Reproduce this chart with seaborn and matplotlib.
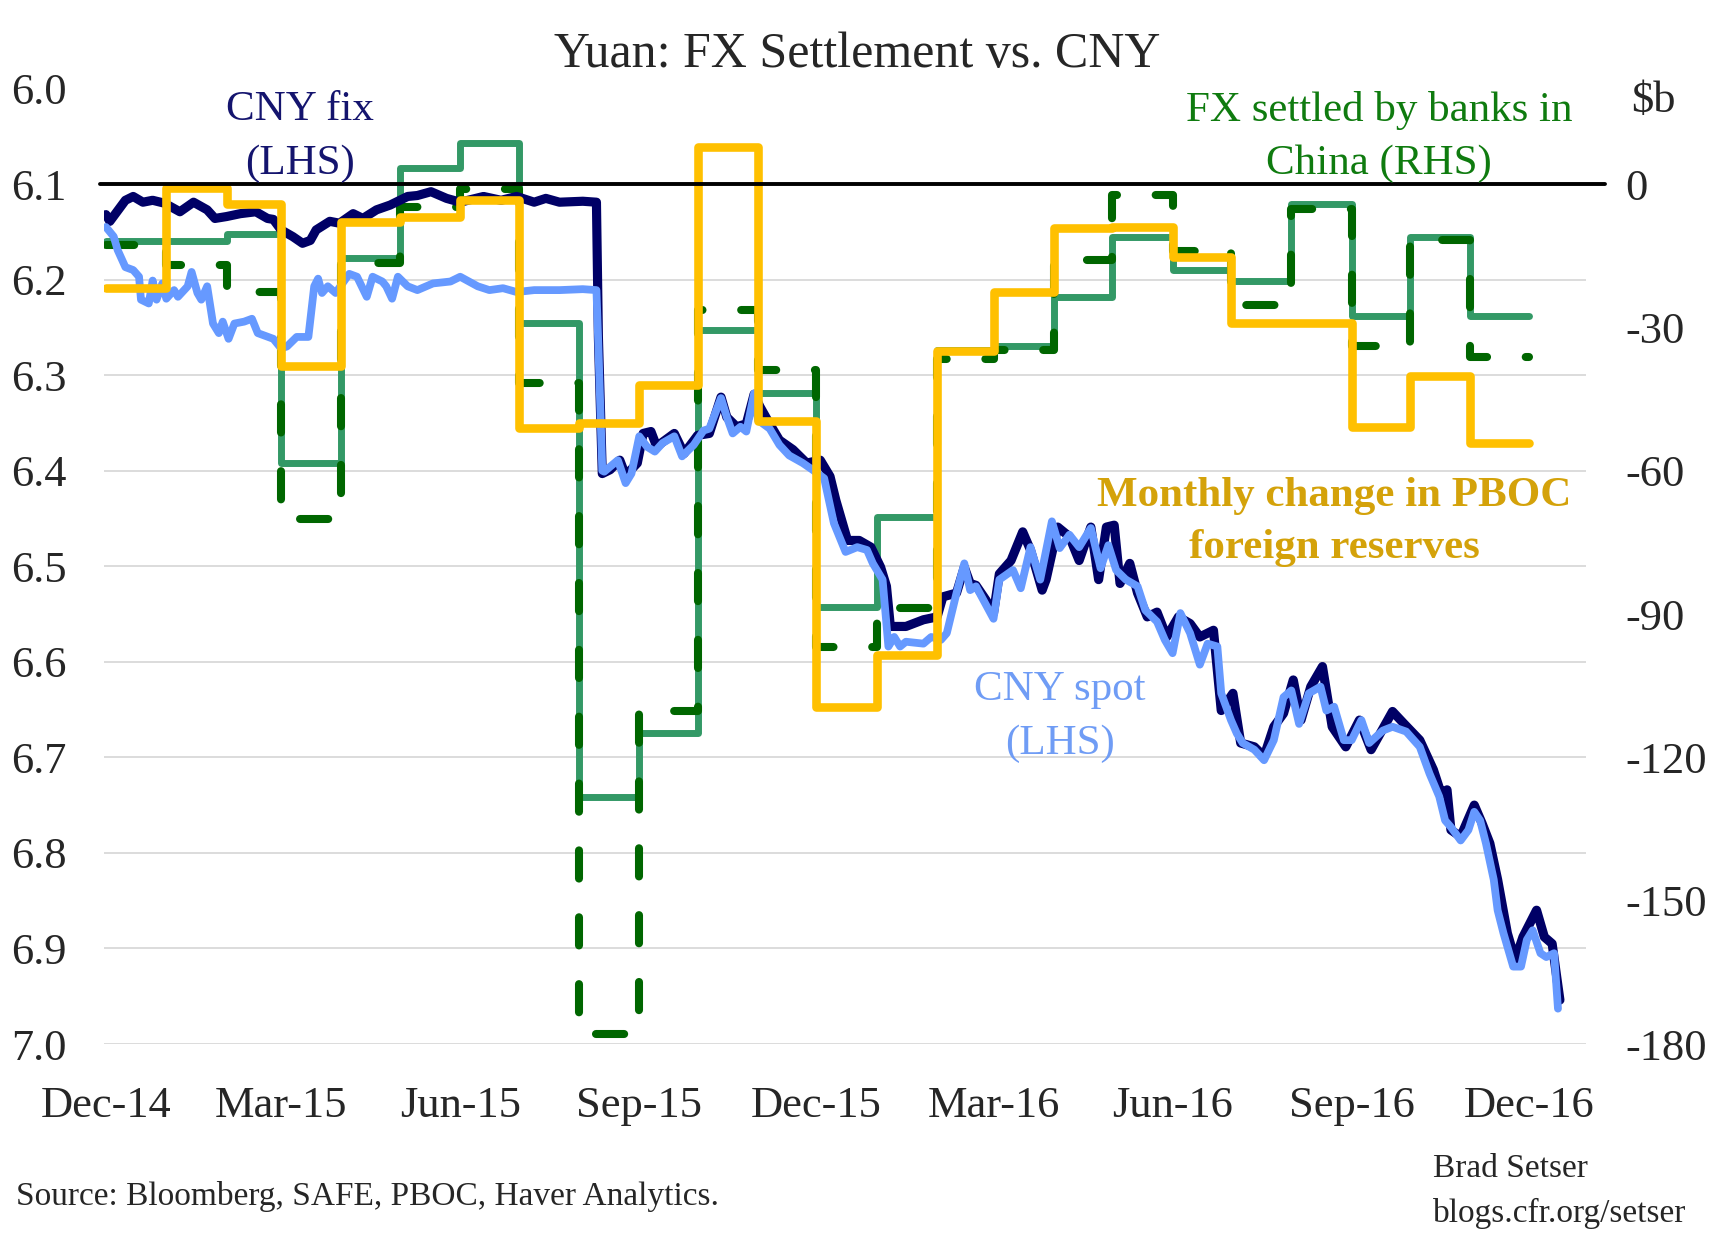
import numpy as np
import pandas as pd
import matplotlib
matplotlib.use("Agg")
import matplotlib.pyplot as plt
import seaborn as sns

# ---- data ----
START = pd.Timestamp("2014-12-01")

# daily CNY fix, sampled: day offset from 1 Dec 2014, level
fix_day = [0, 2, 10, 14, 19, 24, 30, 38, 45, 52, 56, 62, 69, 77, 83, 86, 90, 96, 101, 105,
           108, 115, 120, 127, 132, 139, 146, 155, 160, 167, 175, 182, 194, 203, 211, 220, 226, 233, 245, 252,
           253, 255, 259, 264, 267, 273, 276, 280, 283, 286, 292, 297, 304, 310, 316, 319, 324, 329, 333, 336,
           341, 346, 353, 360, 367, 372, 375, 378, 381, 387, 393, 398, 401, 403, 411, 420, 427, 430, 437, 441,
           444, 447, 452, 456, 459, 465, 471, 475, 481, 483, 489, 495, 500, 506, 510, 514, 518, 521, 526, 530,
           535, 540, 545, 551, 557, 562, 569, 573, 579, 583, 590, 595, 600, 605, 610, 614, 619, 625, 630, 637,
           644, 650, 661, 667, 675, 682, 686, 689, 691, 696, 703, 707, 711, 715, 720, 724, 728, 735, 739, 743,
           747]
fix_val = [6.132, 6.139, 6.117, 6.113, 6.119, 6.117, 6.120, 6.129, 6.119, 6.127, 6.136, 6.134, 6.131, 6.129,
           6.136, 6.137, 6.148, 6.155, 6.162, 6.159, 6.148, 6.139, 6.141, 6.131, 6.136, 6.127, 6.122, 6.113,
           6.112, 6.108, 6.115, 6.119, 6.113, 6.117, 6.113, 6.119, 6.115, 6.119, 6.118, 6.119,
           6.260, 6.403, 6.399, 6.389, 6.405, 6.392, 6.361, 6.359, 6.375, 6.370, 6.361, 6.382, 6.363, 6.361,
           6.323, 6.344, 6.354, 6.351, 6.320, 6.333, 6.351, 6.368, 6.378, 6.392, 6.389, 6.406, 6.431, 6.452,
           6.473, 6.473, 6.480, 6.501, 6.521, 6.563, 6.563, 6.556, 6.553, 6.532, 6.528, 6.501, 6.518, 6.520,
           6.535, 6.549, 6.508, 6.494, 6.464, 6.483, 6.525, 6.514, 6.459, 6.469, 6.494, 6.459, 6.514, 6.459,
           6.457, 6.518, 6.497, 6.528, 6.553, 6.548, 6.574, 6.553, 6.560, 6.574, 6.567, 6.651, 6.633, 6.685,
           6.689, 6.699, 6.668, 6.654, 6.619, 6.661, 6.626, 6.605, 6.668, 6.689, 6.661, 6.692, 6.652, 6.665,
           6.682, 6.713, 6.738, 6.734, 6.776, 6.783, 6.750, 6.769, 6.790, 6.828, 6.884, 6.912, 6.888, 6.860,
           6.888, 6.895, 6.954]

# daily CNY spot, sampled
spot_day = [0, 4, 6, 10, 14, 17, 18, 22, 24, 26, 29, 31, 35, 37, 42, 44, 47, 49, 52, 55, 58, 60, 63, 66,
            71, 75, 78, 86, 90, 93, 98, 104, 107, 109, 111, 114, 118, 125, 129, 134, 137, 142, 144, 147, 150,
            155, 160, 168, 177, 182, 191, 197, 204, 211, 220, 233, 245, 252,
            253, 255, 256, 263, 267, 270, 274, 278, 282, 286, 292, 296, 302, 307, 310, 316, 319, 322, 326, 329,
            333, 335, 341, 346, 351, 358, 363, 369, 374, 380, 386, 391, 394, 399, 402, 405, 408, 411, 420, 424,
            429, 432, 437, 441, 444, 447, 452, 456, 459, 466, 470, 475, 480, 486, 490, 495, 500, 506, 511, 515,
            519, 524, 530, 534, 540, 544, 548, 552, 557, 562, 566, 571, 573, 578, 581, 584, 590, 595, 600, 605,
            609, 613, 618, 624, 627, 631, 636, 640, 645, 649, 656, 661, 668, 675, 680, 685, 688, 691, 696, 700,
            703, 706, 709, 713, 715, 718, 723, 727, 730, 733, 737, 740, 744, 746]
spot_val = [6.145, 6.155, 6.169, 6.187, 6.190, 6.197, 6.221, 6.225, 6.201, 6.221, 6.204, 6.220, 6.211, 6.218,
            6.207, 6.192, 6.214, 6.221, 6.207, 6.246, 6.256, 6.244, 6.262, 6.246, 6.244, 6.241, 6.256, 6.262,
            6.272, 6.270, 6.260, 6.260, 6.207, 6.199, 6.214, 6.207, 6.214, 6.194, 6.197, 6.218, 6.197, 6.202,
            6.207, 6.220, 6.197, 6.207, 6.211, 6.204, 6.202, 6.197, 6.207, 6.211, 6.209, 6.213, 6.211, 6.211,
            6.210, 6.211,
            6.270, 6.400, 6.401, 6.389, 6.413, 6.403, 6.364, 6.375, 6.380, 6.371, 6.364, 6.385, 6.373, 6.358,
            6.356, 6.324, 6.344, 6.361, 6.354, 6.359, 6.319, 6.347, 6.356, 6.373, 6.384, 6.392, 6.399, 6.408,
            6.455, 6.485, 6.480, 6.483, 6.497, 6.514, 6.584, 6.574, 6.584, 6.579, 6.581, 6.574, 6.577, 6.570,
            6.528, 6.497, 6.525, 6.521, 6.540, 6.555, 6.514, 6.504, 6.523, 6.480, 6.514, 6.453, 6.481, 6.467,
            6.480, 6.460, 6.502, 6.478, 6.504, 6.514, 6.521, 6.546, 6.558, 6.577, 6.591, 6.549, 6.570, 6.603,
            6.581, 6.584, 6.633, 6.661, 6.675, 6.685, 6.692, 6.703, 6.682, 6.637, 6.630, 6.665, 6.633, 6.626,
            6.651, 6.647, 6.682, 6.682, 6.661, 6.685, 6.672, 6.668, 6.673, 6.689, 6.717, 6.741, 6.766, 6.773,
            6.787, 6.776, 6.757, 6.766, 6.790, 6.828, 6.860, 6.884, 6.919, 6.919, 6.891, 6.881, 6.905, 6.909,
            6.905, 6.963]

# monthly series, $b, Dec-14 .. Nov-16
months = pd.date_range("2014-12-01", "2016-11-01", freq="MS")
fx_settled = [-12.0, -12.0, -10.5, -58.4, -15.5, 3.3, 8.5, -29.0, -128.3, -114.8, -30.5, -43.8,
              -88.5, -69.6, -34.7, -34.0, -23.7, -11.0, -18.0, -20.2, -4.1, -27.7, -11.0, -27.7]
fx_settled_2 = [-12.8, -16.9, -22.7, -70.1, -16.6, -4.9, -1.1, -41.7, -178.0, -110.4, -26.3, -39.0,
                -96.8, -88.8, -36.6, -34.7, -15.8, -2.2, -14.0, -25.4, -5.2, -33.9, -11.8, -36.2]
pboc_change = [-21.7, -0.9, -4.2, -38.0, -7.9, -6.8, -3.3, -51.0, -50.1, -42.0, 7.8, -49.7,
               -109.4, -98.6, -35.0, -22.7, -9.1, -9.0, -15.3, -29.1, -29.1, -50.8, -40.1, -54.2]

left_ticks = [6.0, 6.1, 6.2, 6.3, 6.4, 6.5, 6.6, 6.7, 6.8, 6.9, 7.0]
right_ticks = [0, -30, -60, -90, -120, -150, -180]
x_ticks = pd.date_range("2014-12-01", "2016-12-01", freq="3MS")

# ---- frames ----
daily_fix = pd.DataFrame({"date": START + pd.to_timedelta(fix_day, unit="D"), "v": fix_val})
daily_spot = pd.DataFrame({"date": START + pd.to_timedelta(spot_day, unit="D"), "v": spot_val})
# step series: last month is held until 1 Dec 2016
edges = list(months) + [pd.Timestamp("2016-12-01")]
monthly = pd.DataFrame({
    "date": edges,
    "settled": fx_settled + fx_settled[-1:],
    "settled2": fx_settled_2 + fx_settled_2[-1:],
    "pboc": pboc_change + pboc_change[-1:],
})

# ---- style ----
sns.set_theme(style="white")
plt.rcParams["font.family"] = ["Liberation Serif", "DejaVu Serif"]

W, H = 1714, 1234
fig = plt.figure(figsize=(W / 100, H / 100), dpi=100)
ax = fig.add_axes([104 / W, 1 - 1044 / H, 1482 / W, (1044 - 88.5) / H])
ax2 = ax.twinx()

NAVY = "#000066"
SPOT = "#6699ff"
GREEN = "#339966"
DKGREEN = "#006600"
GOLD = "#ffc000"

# right-axis series (bottom layer)
ax2.set_zorder(1)
sns.lineplot(data=monthly, x="date", y="settled", ax=ax2, color=GREEN, linewidth=5.0,
             drawstyle="steps-post", zorder=1)
sns.lineplot(data=monthly, x="date", y="settled2", ax=ax2, color=DKGREEN, linewidth=5.8,
             drawstyle="steps-post", linestyle=(0, (3.5, 4.8)), dash_capstyle="round", zorder=2)

# left-axis daily lines above the green steps
ax.set_zorder(2)
ax.patch.set_visible(False)
sns.lineplot(data=daily_fix, x="date", y="v", ax=ax, color=NAVY, zorder=3)
ax.lines[-1].set_linewidth(6.6)
sns.lineplot(data=daily_spot, x="date", y="v", ax=ax, color=SPOT, zorder=4)
ax.lines[-1].set_linewidth(5.6)
for ln in ax.lines:
    ln.set_solid_joinstyle("round")
    ln.set_solid_capstyle("round")

# reserves on top, on an overlay with the right-hand scale
ax3 = ax.twinx()
ax3.set_zorder(3)
ax3.patch.set_visible(False)
sns.lineplot(data=monthly, x="date", y="pboc", ax=ax3, color=GOLD, linewidth=6.2,
             drawstyle="steps-post", zorder=5)
ax3.axhline(0, xmin=-0.003, xmax=1.0125, color="black", lw=2.8, clip_on=False, zorder=6)

# ---- axes ----
xlo = START - pd.Timedelta(days=1)
xhi = START + pd.Timedelta(days=760.4)
for a in (ax, ax2, ax3):
    a.set_xlabel("")
    a.set_ylabel("")
    for s in a.spines.values():
        s.set_visible(False)
    a.tick_params(length=0)
ax.set_xlim(xlo, xhi)

ax.set_ylim(7.0, 6.0)
ax.set_yticks(left_ticks)
ax.set_yticklabels([f"{t:.1f}" for t in left_ticks], fontsize=32)
ax.tick_params(axis="y", pad=27)
ax.grid(False)
for t in left_ticks:
    ax2.axhline(np.interp(t, [6.0, 7.0], [20, -180]), color="#d9d9d9", lw=1.3, zorder=0)

ax.set_xticks(x_ticks)
ax.set_xticklabels([d.strftime("%b-%y") for d in x_ticks], fontsize=32)
ax.tick_params(axis="x", pad=30)

ax2.set_ylim(-180, 20)
ax2.set_yticks(right_ticks)
ax2.set_yticklabels([str(t) for t in right_ticks], fontsize=32)
ax2.tick_params(axis="y", pad=28)
ax3.set_ylim(-180, 20)
ax3.set_yticks([])

# ---- text ----
def ftext(x, y, s, **kw):
    fig.text(x / W, 1 - y / H, s, **kw)

ftext(857, 55, "Yuan: FX Settlement vs. CNY", fontsize=36, ha="center", va="center")
ftext(300, 110, "CNY fix", fontsize=31, color="#14146e", ha="center", va="center")
ftext(300, 164, "(LHS)", fontsize=31, color="#14146e", ha="center", va="center")
ftext(1379, 110, "FX settled by banks in", fontsize=31, color="#0f7b0f", ha="center", va="center")
ftext(1379, 164, "China (RHS)", fontsize=31, color="#0f7b0f", ha="center", va="center")
ftext(1334, 496, "Monthly change in PBOC", fontsize=31, color="#d4a20a", fontweight="bold",
      ha="center", va="center")
ftext(1334, 548, "foreign reserves", fontsize=31, color="#d4a20a", fontweight="bold",
      ha="center", va="center")
ftext(1060, 690, "CNY spot", fontsize=31, color="#6f9cf5", ha="center", va="center")
ftext(1060, 744, "(LHS)", fontsize=31, color="#6f9cf5", ha="center", va="center")
ftext(1653, 101, "$b", fontsize=32, ha="center", va="center")
ftext(16, 1197, "Source: Bloomberg, SAFE, PBOC, Haver Analytics.", fontsize=24, ha="left", va="center")
ftext(1433, 1169, "Brad Setser", fontsize=24, ha="left", va="center")
ftext(1433, 1213, "blogs.cfr.org/setser", fontsize=24, ha="left", va="center")

fig.savefig("out.png", dpi=100)
